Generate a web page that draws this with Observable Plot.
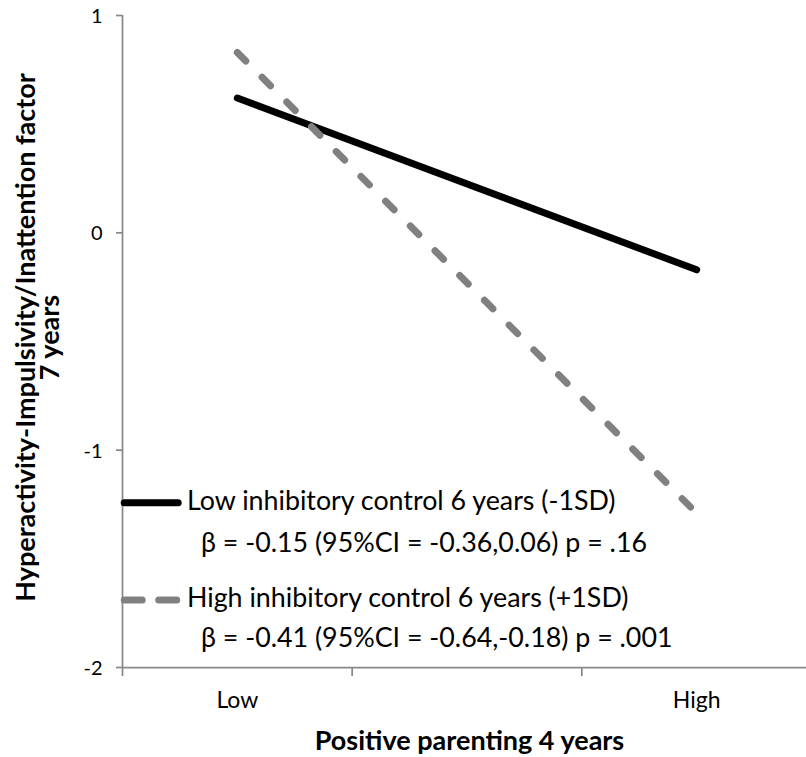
<!DOCTYPE html>
<html><head><meta charset="utf-8">
<script src="https://cdn.jsdelivr.net/npm/d3@7"></script>
<script src="https://cdn.jsdelivr.net/npm/@observablehq/plot@0.6"></script>
<style>
html,body{margin:0;padding:0;background:#fff;overflow:hidden;}
#wrap{position:relative;width:806px;height:757px;}
#legend{position:absolute;left:0;top:0;pointer-events:none;}
</style></head><body><div id="wrap"></div>
<script>
// ---- data ----
const xCategories = ["Low", "", "High"];
const valueCategories = ["Low", "High"];
const lowICValues = [0.62, -0.17];
const highICValues = [0.83, -1.29];
const seriesNames = ["Low inhibitory control 6 years (-1SD)", "High inhibitory control 6 years (+1SD)"];
const seriesStats = ["β = -0.15 (95%CI = -0.36,0.06) p = .16", "β = -0.41 (95%CI = -0.64,-0.18) p = .001"];
const yTicks = [-2, -1, 0, 1];
const xTitle = "Positive parenting 4 years";
const yTitle = "Hyperactivity-Impulsivity/Inattention factor\n7 years";

// ---- build ----
const FONT = "Lato";
const AXIS = "#888888";
const pos = c => xCategories.indexOf(c) + 0.5;
const lowData = valueCategories.map((c, i) => ({x: pos(c), y: lowICValues[i]}));
const highData = valueCategories.map((c, i) => ({x: pos(c), y: highICValues[i]}));
const labelCats = xCategories.filter(c => c);

const plot = Plot.plot({
  width: 806, height: 757,
  marginTop: 15, marginLeft: 122, marginRight: -5, marginBottom: 90,
  style: {fontFamily: FONT, background: "transparent", overflow: "visible", color: "#000"},
  x: {type: "linear", domain: [0, xCategories.length], axis: null},
  y: {type: "linear", domain: [-2, 1], axis: null},
  marks: [
    Plot.ruleX([0], {stroke: AXIS, strokeWidth: 1.75}),
    Plot.ruleY([-2], {stroke: AXIS, strokeWidth: 1.75}),
    Plot.axisY({ticks: yTicks, tickSize: 6, tickPadding: 14, stroke: AXIS, strokeWidth: 1.75, tickFormat: () => "", label: null}),
    Plot.axisX({ticks: d3.range(xCategories.length + 1), tickSize: 9, tickFormat: () => "", stroke: AXIS, strokeWidth: 1.75, label: null}),
    Plot.text(yTicks, {frameAnchor: "left", y: d => d, text: d => String(d), textAnchor: "end", dx: -20, dy: 1, fontSize: 20, fill: "#000"}),
    Plot.text(labelCats, {x: pos, text: d => d, frameAnchor: "bottom", lineAnchor: "top", dy: 24, fontSize: 23, fill: "#000"}),
    Plot.line(lowData, {x: "x", y: "y", stroke: "#000", strokeWidth: 7, strokeLinecap: "round"}),
    Plot.line(highData, {x: "x", y: "y", stroke: "#808080", strokeWidth: 7, strokeLinecap: "round", strokeDasharray: "12,23"}),
    Plot.text([xTitle], {text: d => d, frameAnchor: "bottom", dx: 2.5, dy: 74, fontSize: 27, fontWeight: "bold", lineAnchor: "middle"}),
    Plot.text([yTitle], {text: d => d, frameAnchor: "left", rotate: -90, dx: -83, dy: -4, fontSize: 27, fontWeight: "bold", textAnchor: "middle", lineAnchor: "middle", lineHeight: 0.9})
  ]
});
document.getElementById("wrap").appendChild(plot);

// ---- legend (overlay) ----
const legendLayout = [
  {sampleY: 502.7, textY: 510, statY: 551.7, color: "#000", dash: null},
  {sampleY: 600, textY: 606.7, statY: 646.7, color: "#808080", dash: "18,16.5,18,100"}
];
const lg = d3.select("#wrap").append("svg").attr("id", "legend").attr("width", 806).attr("height", 757)
  .style("font-family", FONT);
seriesNames.forEach((name, i) => {
  const L = legendLayout[i];
  lg.append("line").attr("x1", 124.2).attr("x2", 178.2).attr("y1", L.sampleY).attr("y2", L.sampleY)
    .attr("stroke", L.color).attr("stroke-width", 7).attr("stroke-linecap", "round")
    .attr("stroke-dasharray", L.dash);
  lg.append("text").attr("x", 187).attr("y", L.textY).attr("font-size", 26.8).attr("fill", "#000").text(name);
  lg.append("text").attr("x", 201).attr("y", L.statY).attr("font-size", 26.8).attr("fill", "#000").text(seriesStats[i]);
});
</script></body></html>
